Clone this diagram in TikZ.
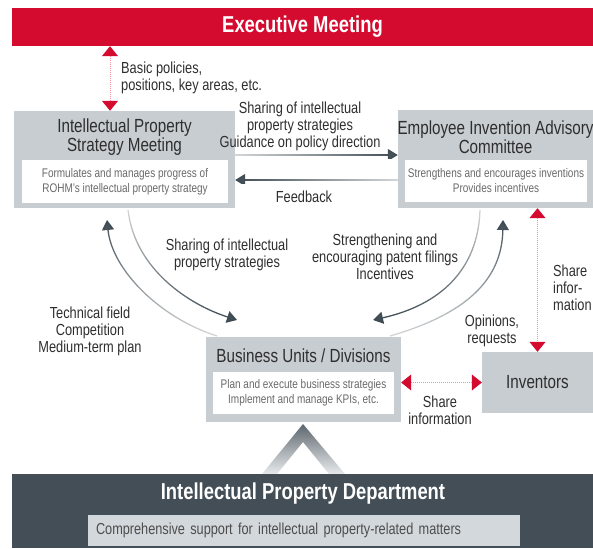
\documentclass[tikz,border=0pt]{standalone}
\usepackage{fontspec}
\setmainfont{Liberation Sans}[FakeStretch=0.8]
\usetikzlibrary{arrows.meta,fadings}
\definecolor{ROHMred}{HTML}{D50A2F}
\definecolor{dotred}{HTML}{EE8FA2}
\definecolor{boxgray}{HTML}{C8CDD2}
\definecolor{bardark}{HTML}{434E56}
\definecolor{arrowdark}{HTML}{3E4A52}
\definecolor{textdark}{HTML}{2E2E2E}
\definecolor{notegray}{HTML}{6A6A6A}
\definecolor{deptin}{HTML}{D3D8DD}
\definecolor{chevtop}{HTML}{5D676E}
\definecolor{chevbot}{HTML}{E8EAEC}
\tikzfading[name=fadeE,left color=transparent!78,right color=transparent!0]
\tikzfading[name=fadeW,left color=transparent!0,right color=transparent!78]
\tikzfading[name=fadeN,top color=transparent!0,bottom color=transparent!78]
\tikzfading[name=fadeS,top color=transparent!78,bottom color=transparent!0]

\begin{document}
\begin{tikzpicture}[
  x=1pt,y=-1pt,
  box/.style={fill=boxgray,inner sep=0pt},
  inbox/.style={fill=white,inner sep=0pt},
  title/.style={inner sep=0pt,align=center,text=textdark,font=\fontsize{19}{18.5}\selectfont},
  note/.style={inner sep=0pt,align=center,text=notegray,font=\fontsize{12.5}{15}\selectfont},
  lab/.style={inner sep=0pt,align=center,text=textdark,font=\fontsize{16}{17}\selectfont},
  flow/.style={draw=arrowdark,line width=1.3pt,-{Triangle[length=10pt,width=12pt]}},
  share/.style={draw=dotred,line width=1pt,densely dotted,
    {Triangle[length=10pt,width=16pt,color=ROHMred]}-{Triangle[length=10pt,width=16pt,color=ROHMred]}}
]
  \useasboundingbox (0,0) rectangle (593,548);
  \node[fill=ROHMred,minimum width=581pt,minimum height=38pt,inner sep=0pt,text=white,
    font=\bfseries\fontsize{23}{23}\selectfont] (exec) at (302.5,27) {Executive Meeting};

  \node[box,minimum width=221pt,minimum height=97pt] (ipsm) at (124.5,159.5) {};
  \node[title] (ipsmT) at (124.5,137) {Intellectual Property\\Strategy Meeting};
  \node[inbox,minimum width=206pt,minimum height=43pt,note] (ipsmN) at (125,181.5)
    {Formulates and manages progress of\\ROHM's intellectual property strategy};

  \node[box,minimum width=195pt,minimum height=98pt] (eiac) at (495.5,159) {};
  \node[title] (eiacT) at (495.5,137) {Employee Invention Advisory\\Committee};
  \node[inbox,minimum width=182pt,minimum height=42pt,note] (eiacN) at (496,181)
    {Strengthens and encourages inventions\\Provides incentives};

  \node[box,minimum width=195pt,minimum height=85pt] (bu) at (303.5,379.5) {};
  \node[title] (buT) at (303.5,356) {Business Units / Divisions};
  \node[inbox,minimum width=181pt,minimum height=42pt,note] (buN) at (303.5,393)
    {Plan and execute business strategies\\Implement and manage KPIs, etc.};

  \node[box,minimum width=111pt,minimum height=61pt,title] (inv) at (537.5,382.5) {Inventors};

  \shade[top color=chevtop,bottom color=chevbot]
    (262,474) -- (303,424) -- (345,474) -- (329,474) -- (303,442) -- (277,474) -- cycle;

  \node[fill=bardark,minimum width=581pt,minimum height=74pt,inner sep=0pt] (dept) at (302.5,511) {};
  \node[inner sep=0pt,text=white,font=\bfseries\fontsize{23}{23}\selectfont] (deptT) at (303,494)
    {Intellectual Property Department};
  \node[fill=deptin,text width=416pt,inner xsep=8pt,inner ysep=0pt,minimum height=31pt,align=left,
    text=textdark!85,font=\fontsize{15.9}{17}\selectfont] (deptN) at (304,530.5)
    {Comprehensive support for intellectual property-related matters};

  \coordinate (up) at (110,0);
  \coordinate (go) at (0,155);
  \coordinate (back) at (0,180);
  \draw[share] (exec.south -| up) -- (ipsm.north -| up);
  \draw[share] (eiac.south -| inv.north) -- (inv.north);
  \draw[share] (bu.east |- inv.west) -- (inv.west);

  \draw[flow,path fading=fadeE] (ipsm.east |- go) ++(0,-5) (ipsm.east |- go) -- (eiac.west |- go);
  \draw[flow,path fading=fadeW] (eiac.west |- back) ++(0,-5) (eiac.west |- back) -- (ipsm.east |- back);

  \coordinate (a1) at (217,336);
  \coordinate (a2) at (107,220);
  \coordinate (b1) at (128,210);
  \coordinate (b2) at (237,320);
  \coordinate (c1) at (390,336);
  \coordinate (c2) at (503,220);
  \coordinate (d1) at (480,210);
  \coordinate (d2) at (373,320);
  \draw[flow,path fading=fadeN] (a1) .. controls (160,318) and (112,270) .. (a2);
  \draw[flow,path fading=fadeS] (b1) .. controls (135,270) and (190,305) .. (b2);
  \draw[flow,path fading=fadeN] (c1) .. controls (466,314) and (502,280) .. (c2);
  \draw[flow,path fading=fadeS] (d1) .. controls (478,270) and (440,305) .. (d2);

  \node[lab,anchor=west,align=left] (basic) at (121,78) {Basic policies,\\positions, key areas, etc.};
  \node[lab] (goL) at (300,126) {Sharing of intellectual\\property strategies\\Guidance on policy direction};
  \node[lab] (backL) at (304,197) {Feedback};
  \node[lab] (buL) at (227,255) {Sharing of intellectual\\property strategies};
  \node[lab] (techL) at (90,331) {Technical field\\Competition\\Medium-term plan};
  \node[lab] (patL) at (385,257) {Strengthening and\\encouraging patent filings\\Incentives};
  \node[lab] (opL) at (492,331) {Opinions,\\requests};
  \node[lab,anchor=west,align=left] (eiacL) at (553,288) {Share\\infor-\\mation};
  \node[lab] (invL) at (440,410) {Share\\information};
\end{tikzpicture}
\end{document}
